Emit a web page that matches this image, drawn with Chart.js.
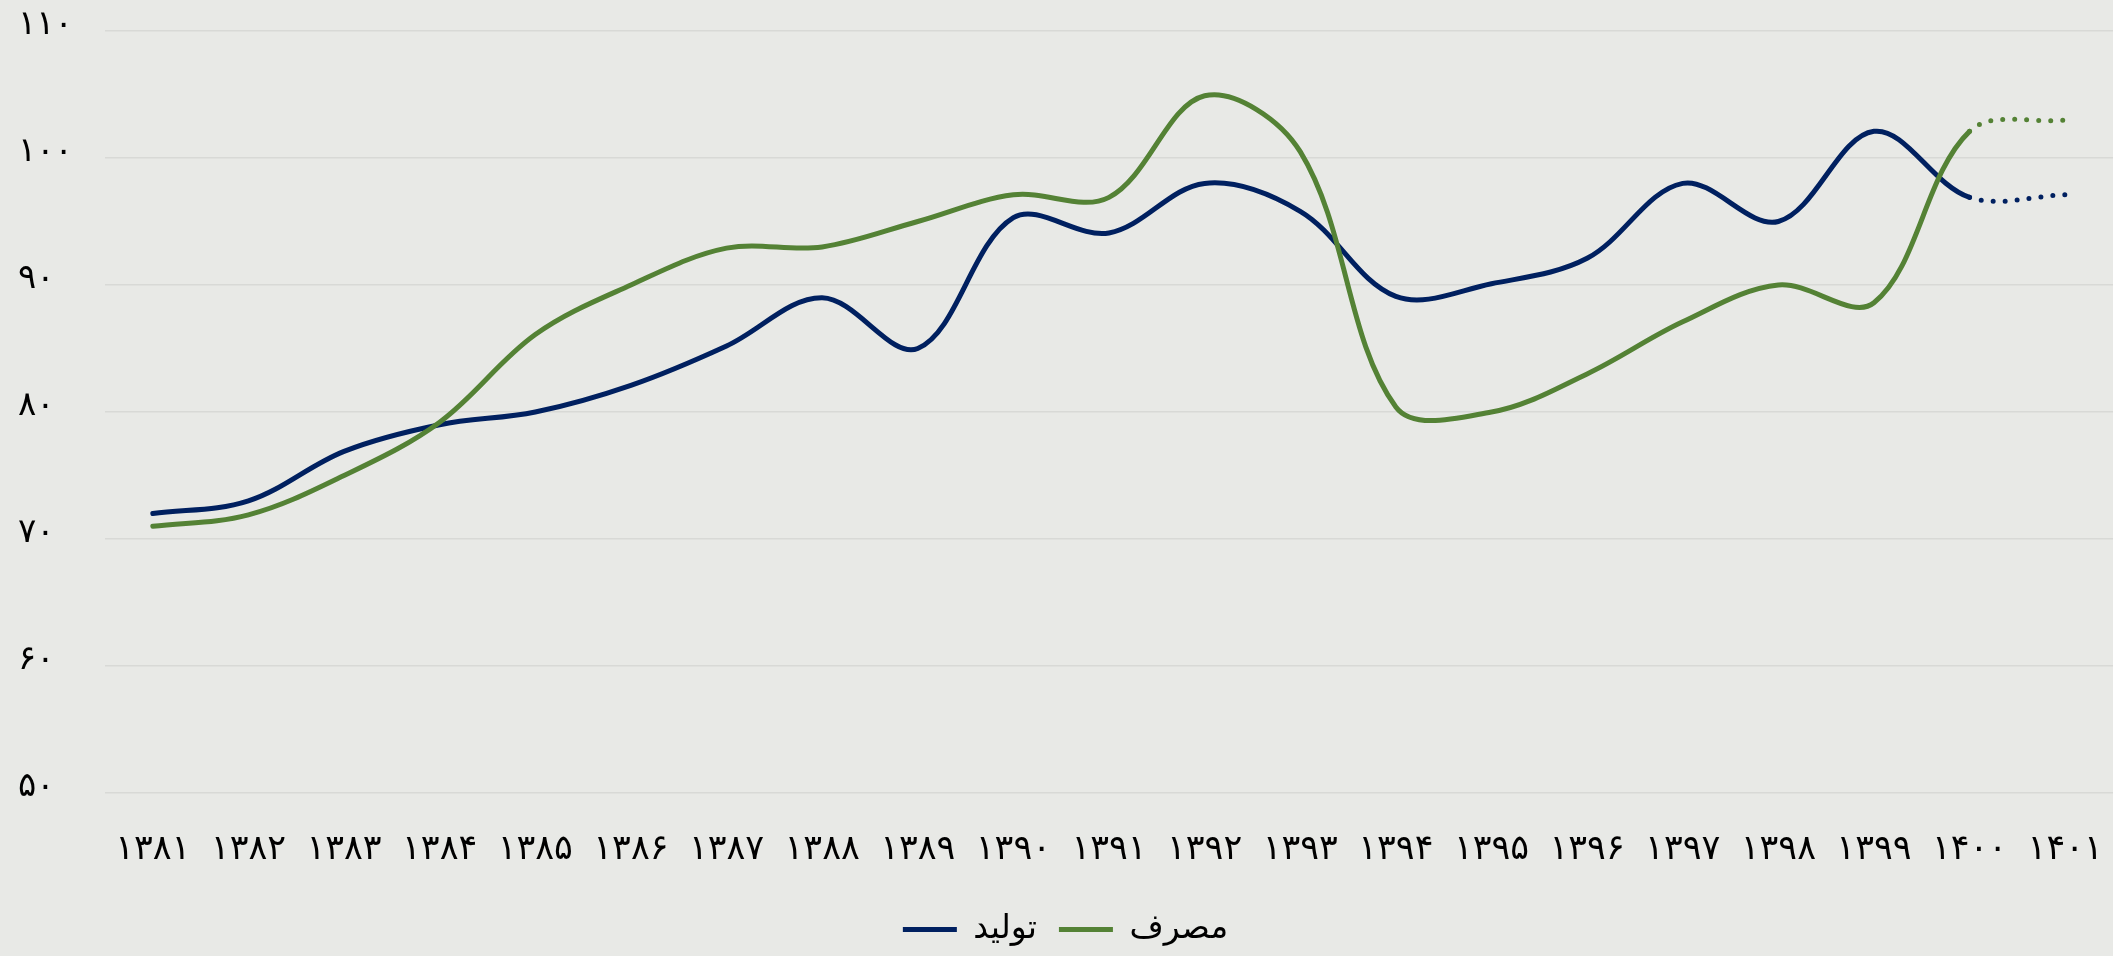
<!DOCTYPE html>
<html lang="fa">
<head>
<meta charset="utf-8">
<title>تولید و مصرف</title>
<script src="https://cdn.jsdelivr.net/npm/chart.js@4.4.1/dist/chart.umd.min.js"></script>
<style>
  html, body { margin: 0; padding: 0; background: #e8e9e6; overflow: hidden; }
  #wrap { width: 2113px; height: 956px; position: relative; }
</style>
</head>
<body>
<div id="wrap"><canvas id="chart"></canvas></div>
<script>
  // years on the category axis
  const years = ['۱۳۸۱', '۱۳۸۲', '۱۳۸۳', '۱۳۸۴', '۱۳۸۵', '۱۳۸۶', '۱۳۸۷', '۱۳۸۸', '۱۳۸۹', '۱۳۹۰',
    '۱۳۹۱', '۱۳۹۲', '۱۳۹۳', '۱۳۹۴', '۱۳۹۵', '۱۳۹۶', '۱۳۹۷', '۱۳۹۸', '۱۳۹۹', '۱۴۰۰', '۱۴۰۱'];

  // series values
  const production = [72.0, 73.0, 76.9, 79.0, 80.0, 82.1, 85.2, 89.0, 85.0, 95.3, 94.1,
    98.0, 95.8, 89.1, 90.1, 92.1, 98.0, 95.0, 102.1, 96.9, 97.1];
  const consumption = [71.0, 71.9, 75.0, 79.2, 86.1, 90.0, 92.9, 93.0, 95.0, 97.1, 96.9,
    104.9, 100.5, 80.4, 80.0, 83.0, 87.1, 90.0, 88.6, 102.1, 103.0];

  // y axis ticks and their Persian labels
  const yTicks = [50, 60, 70, 80, 90, 100, 110];
  const yTickLabels = ['۵۰', '۶۰', '۷۰', '۸۰', '۹۰', '۱۰۰', '۱۱۰'];

  // last segment (1400 -> 1401) is a forecast, drawn dotted
  const forecastFrom = years.length - 2;

  const FONT = 'DejaVu Sans';
  const NAVY = '#002060';
  const GREEN = '#548235';

  const dotted = ctx => ctx.p0DataIndex >= forecastFrom ? [0, 12] : undefined;

  function lineSet(label, data, color, order) {
    return {
      label: label,
      data: data,
      borderColor: color,
      backgroundColor: color,
      borderWidth: 5,
      borderCapStyle: 'round',
      borderJoinStyle: 'round',
      tension: 0.35,
      pointRadius: 0,
      pointHoverRadius: 0,
      order: order,
      segment: { borderDash: dotted }
    };
  }

  new Chart(document.getElementById('chart'), {
    type: 'line',
    data: {
      labels: years,
      datasets: [
        lineSet('تولید', production, NAVY, 1),
        lineSet('مصرف', consumption, GREEN, 0)
      ]
    },
    options: {
      responsive: true,
      maintainAspectRatio: false,
      animation: false,
      layout: { padding: { left: 18, right: 0, top: 31, bottom: 0 } },
      plugins: {
        tooltip: { enabled: false },
        legend: {
          position: 'bottom',
          labels: {
            color: '#000',
            font: { family: FONT, size: 33 },
            usePointStyle: true,
            pointStyle: 'line',
            pointStyleWidth: 54,
            padding: 22,
            sort: (a, b) => a.datasetIndex - b.datasetIndex
          }
        }
      },
      scales: {
        x: {
          offset: true,
          grid: { display: false, drawTicks: false },
          border: { display: false },
          ticks: {
            color: '#000',
            font: { family: FONT, size: 35 },
            padding: 36,
            maxRotation: 0,
            autoSkip: false
          },
          afterFit: scale => {
            // labels never spill past the plot edges, so no side padding
            scale.height = 98;
            scale.paddingLeft = 0;
            scale.paddingRight = 0;
          }
        },
        y: {
          min: 50,
          max: 110,
          grid: { color: '#d8d9d6', lineWidth: 1.5, drawTicks: false },
          border: { display: false },
          afterBuildTicks: scale => { scale.ticks = yTicks.map(v => ({ value: v })); },
          afterFit: scale => { scale.width = 87; },
          ticks: {
            color: '#000',
            font: { family: FONT, size: 34 },
            crossAlign: 'far',
            labelOffset: -6,
            callback: v => yTickLabels[yTicks.indexOf(v)]
          }
        }
      }
    }
  });
</script>
</body>
</html>
